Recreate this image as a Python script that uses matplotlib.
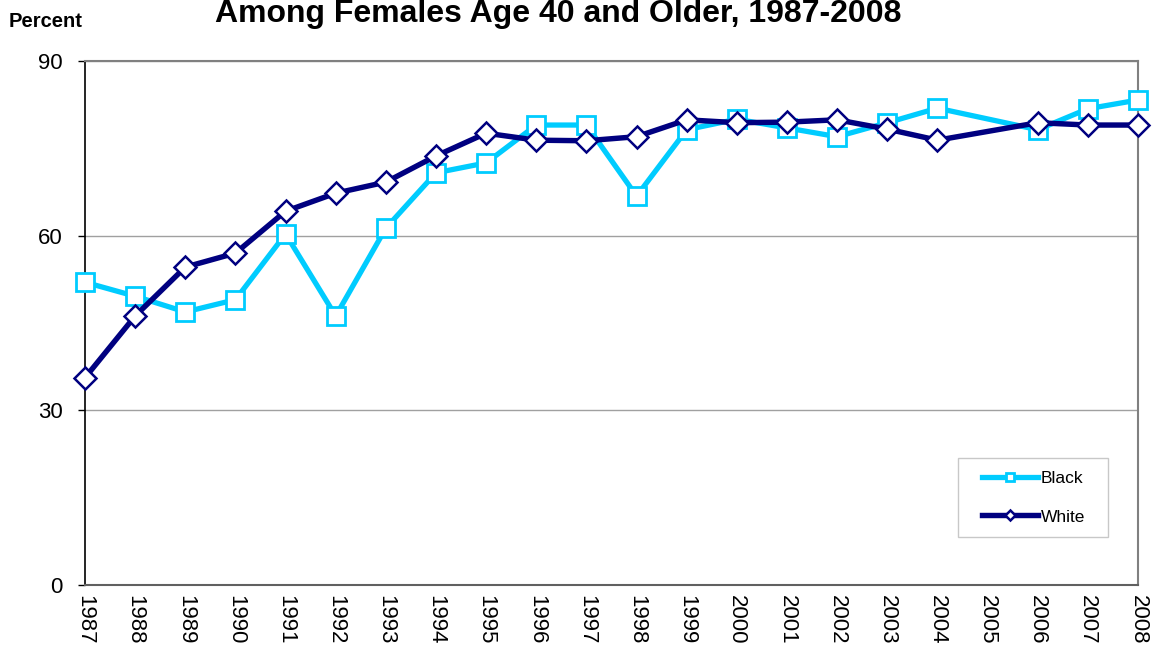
import numpy as np
import matplotlib
matplotlib.use("Agg")
import matplotlib.pyplot as plt
from matplotlib.patches import Rectangle

plt.rcParams['font.family'] = ['Liberation Sans', 'DejaVu Sans']

years = list(range(1987, 2009))
black = [52.0, 49.6, 46.9, 49.0, 60.3, 46.2, 61.3, 70.8, 72.5, 79.0, 79.0,
         66.8, 78.2, 80.0, 78.5, 77.0, 79.4, 81.9, np.nan, 78.2, 81.8, 83.3]
white = [35.6, 46.2, 54.6, 57.0, 64.2, 67.3, 69.2, 73.7, 77.6, 76.4, 76.3,
         77.0, 79.9, 79.4, 79.5, 79.9, 78.3, 76.4, np.nan, 79.4, 79.0, 79.0]
yticks = [0, 30, 60, 90]
title = "Among Females Age 40 and Older, 1987-2008"

W, H = 1155, 650
fig = plt.figure(figsize=(11.55, 6.5), dpi=100)
ax = fig.add_axes([85/W, 1-585/H, (1138-85)/W, (585-61)/H])

x = np.array(years)
b = np.array(black, dtype=float)
w = np.array(white, dtype=float)
mb = ~np.isnan(b)
mw = ~np.isnan(w)

ax.plot(x[mb], b[mb], color='#00CCFF', lw=3.8, marker='s', markersize=13,
        markerfacecolor='white', markeredgecolor='#00CCFF', markeredgewidth=2,
        label='Black', zorder=3, clip_on=False)
ax.plot(x[mw], w[mw], color='#000080', lw=3.9, marker='D', markersize=11,
        markerfacecolor='white', markeredgecolor='#000080', markeredgewidth=1.8,
        label='White', zorder=4, clip_on=False)

ax.set_xlim(1987, 2008)
ax.set_ylim(0, 90)
ax.set_yticks(yticks)
ax.set_xticks(years)
ax.set_xticklabels([str(y) for y in years], rotation=270, fontsize=16)
ax.tick_params(axis='y', labelsize=16, direction='out', length=5, width=1, pad=11)
ax.tick_params(axis='x', direction='out', length=0, pad=7)
ax.grid(axis='y', color='#A0A0A0', lw=1)
ax.set_axisbelow(True)
for s in ['top', 'right']:
    ax.spines[s].set_color('#808080')
    ax.spines[s].set_linewidth(1.5)
ax.spines['bottom'].set_color('#606060')
ax.spines['bottom'].set_linewidth(1.5)
ax.spines['left'].set_color('black')
ax.spines['left'].set_linewidth(1.2)

# legend frame drawn separately
ax.add_patch(Rectangle((958/W, 1-537/H), 150/W, 79/H,
                       transform=fig.transFigure, facecolor='white',
                       edgecolor='#C8C8C8', lw=1, zorder=5, clip_on=False))
leg = ax.legend(loc='center left', bbox_to_anchor=(982/W, 1-497.5/H),
                bbox_transform=fig.transFigure, fontsize=12.5, frameon=False,
                markerscale=0.42, handlelength=3.2, labelspacing=1.37,
                borderpad=0, handletextpad=0.2, borderaxespad=0)
leg.set_zorder(6)

fig.text(558/W, 1-22/H, title, ha='center', va='baseline',
         fontsize=23, fontweight='bold')
fig.text(9/W, 1-27/H, 'Percent', ha='left', va='baseline',
         fontsize=14.5, fontweight='bold')

fig.savefig('out.png', dpi=100)
